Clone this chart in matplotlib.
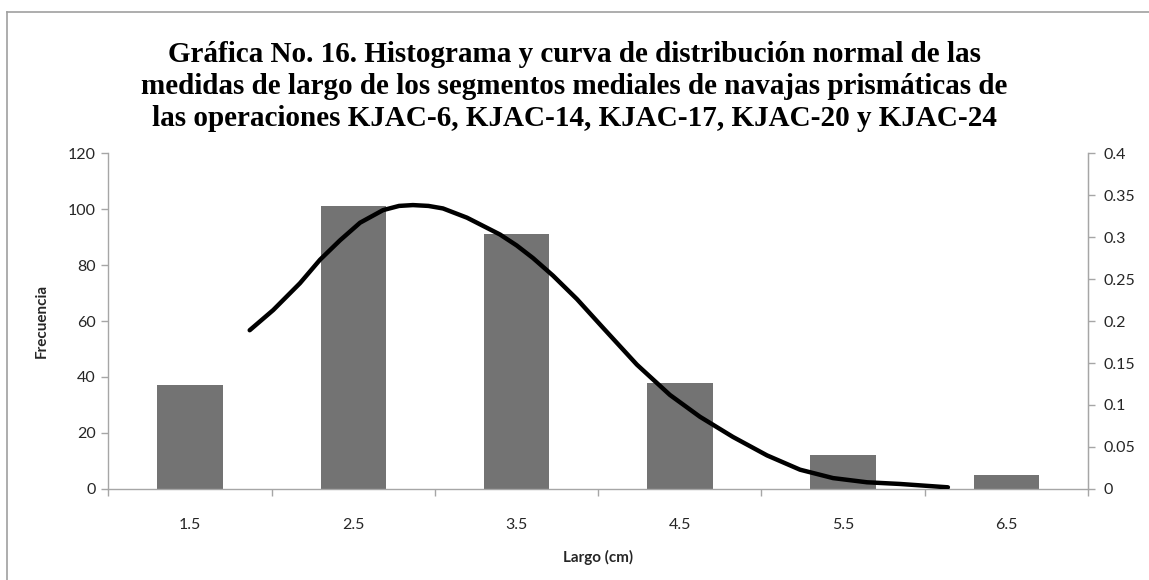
import matplotlib.pyplot as plt
from matplotlib.lines import Line2D

# histogram counts per length class
categories = ["1.5", "2.5", "3.5", "4.5", "5.5", "6.5"]
centers = [1.5, 2.5, 3.5, 4.5, 5.5, 6.5]
counts = [37, 101, 91, 38, 12, 5]

# normal curve, read as (largo, densidad) pairs
curve_x = [1.865, 2.009, 2.173, 2.296, 2.418, 2.541, 2.682, 2.78, 2.865, 2.96, 3.049,
           3.196, 3.398, 3.500, 3.600, 3.723, 3.870, 4.029, 4.237, 4.439, 4.623, 4.825,
           5.034, 5.236, 5.438, 5.646, 5.848, 6.142]
curve_y = [0.189, 0.213, 0.245, 0.273, 0.296, 0.317, 0.332, 0.337, 0.338, 0.337, 0.334,
           0.323, 0.303, 0.290, 0.275, 0.254, 0.226, 0.192, 0.148, 0.112, 0.086, 0.062,
           0.040, 0.023, 0.013, 0.008, 0.006, 0.002]

left_ticks = [0, 20, 40, 60, 80, 100, 120]
right_ticks = [0, 0.05, 0.1, 0.15, 0.2, 0.25, 0.3, 0.35, 0.4]
right_labels = ["0", "0.05", "0.1", "0.15", "0.2", "0.25", "0.3", "0.35", "0.4"]

title = ("Gráfica No. 16. Histograma y curva de distribución normal de las\n"
         "medidas de largo de los segmentos mediales de navajas prismáticas de\n"
         "las operaciones KJAC-6, KJAC-14, KJAC-17, KJAC-20 y KJAC-24")

axis_gray = "#a6a6a6"
text_col = "#262626"
sans = ["Lato", "DejaVu Sans"]

fig = plt.figure(figsize=(11.49, 5.80), dpi=100)
ax = fig.add_axes([0.0944, 0.1569, 0.8525, 0.5793])

ax.bar(centers, counts, width=0.4, color="#737373", zorder=2)
ax.set_xlim(1.0, 7.0)
ax.set_ylim(0, 120)
ax.set_yticks(left_ticks)
ax.set_yticklabels([str(t) for t in left_ticks], fontsize=11.5, color=text_col, family=sans)
ax.set_xticks(centers)
ax.set_xticklabels(categories, fontsize=11.5, color=text_col, family=sans)
ax.tick_params(axis="x", length=0, pad=21)
ax.tick_params(axis="y", length=5, width=1, color=axis_gray, direction="out", pad=4)

# category boundary ticks on the x axis
ax.set_xticks([1.0, 2.0, 3.0, 4.0, 5.0, 6.0, 7.0], minor=True)
ax.tick_params(axis="x", which="minor", length=5, width=1, color=axis_gray, direction="out")

ax.spines["top"].set_visible(False)
for side in ["left", "bottom", "right"]:
    ax.spines[side].set_color(axis_gray)
    ax.spines[side].set_linewidth(1)

ax.set_xlabel("Largo (cm)", fontsize=11, fontweight="bold", color=text_col, family=sans, labelpad=13)
ax.set_ylabel("Frecuencia", fontsize=11, fontweight="bold", color=text_col, family=sans, labelpad=14)

ax2 = ax.twinx()
ax2.plot(curve_x, curve_y, color="black", linewidth=3.2, solid_capstyle="round",
         solid_joinstyle="round", zorder=3)
ax2.set_ylim(0, 0.4)
ax2.set_yticks(right_ticks)
ax2.set_yticklabels(right_labels, fontsize=11.5, color=text_col, family=sans)
ax2.tick_params(axis="y", length=5, width=1, color=axis_gray, direction="out", pad=6)
ax2.spines["top"].set_visible(False)
ax2.spines["left"].set_visible(False)
ax2.spines["bottom"].set_visible(False)
ax2.spines["right"].set_color(axis_gray)

fig.text(0.5, 0.851, title, ha="center", va="center", fontsize=21, fontweight="bold",
         family="Liberation Serif", linespacing=1.23, color="black")

# chart frame (top and left edges)
fig.add_artist(Line2D([0.0058, 1.0], [0.979, 0.979], transform=fig.transFigure,
                      color="#a0a0a0", linewidth=1.2))
fig.add_artist(Line2D([0.0058, 0.0058], [0.0, 0.979], transform=fig.transFigure,
                      color="#a0a0a0", linewidth=1.2))

fig.savefig("out.png", dpi=100)
